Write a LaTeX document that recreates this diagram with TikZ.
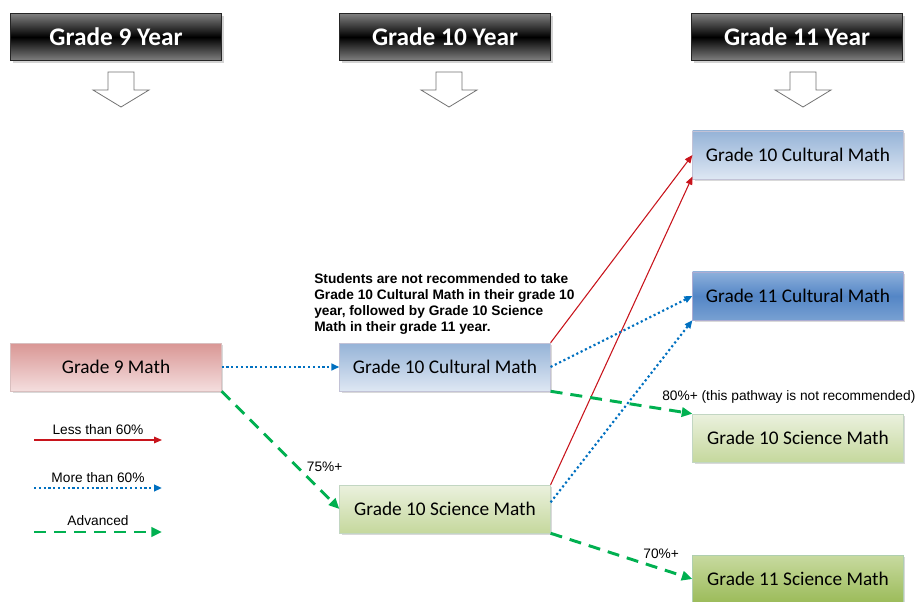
\documentclass[tikz,border=0pt]{standalone}
\usepackage{fontspec}
\setmainfont{Liberation Sans}
\newfontfamily\calibri{Carlito}
\usetikzlibrary{positioning, shadows, arrows.meta}
\definecolor{lessred}{HTML}{C8141C}
\definecolor{moreblue}{HTML}{0070C0}
\definecolor{advgreen}{HTML}{00B050}
\tikzset{
  >={Triangle[length=6pt, width=5pt]},
  yearbox/.style={draw=black!85, text=white,
    font=\calibri\bfseries\fontsize{19}{22}\selectfont,
    minimum width=158pt, minimum height=35pt,
    top color=black!50, bottom color=black!50, middle color=black,
    drop shadow={opacity=0.35, shadow xshift=2pt, shadow yshift=-2pt}},
  hollow/.style={draw=black!55, fill=white, line width=0.6pt},
  course/.style={font=\calibri\fontsize{14.5}{17}\selectfont,
    minimum width=158pt, minimum height=36pt,
    drop shadow={opacity=0.3, shadow xshift=1.5pt, shadow yshift=-1.5pt}},
  gradered/.style={course, draw=red!25!gray!40, top color={rgb,255:red,217;green,150;blue,148}, bottom color={rgb,255:red,244;green,222;blue,222}},
  cultlight/.style={course, draw=blue!20!gray!40, top color={rgb,255:red,149;green,179;blue,215}, bottom color={rgb,255:red,222;green,231;blue,243}},
  cultdark/.style={course, draw=blue!30!gray!50, top color={rgb,255:red,141;green,176;blue,219}, bottom color={rgb,255:red,120;green,160;blue,210}, middle color={rgb,255:red,84;green,134;blue,198}},
  scilight/.style={course, draw=green!20!gray!40, top color={rgb,255:red,235;green,241;blue,222}, bottom color={rgb,255:red,197;green,216;blue,157}},
  scidark/.style={course, draw=green!25!gray!50, top color={rgb,255:red,200;green,218;blue,160}, bottom color={rgb,255:red,155;green,187;blue,89}},
  note/.style={font=\bfseries\fontsize{10.3}{12}\selectfont, align=left, inner sep=0pt},
  lbl/.style={font=\fontsize{10.3}{12}\selectfont},
  less/.style={->, draw=lessred, line width=0.8pt},
  more/.style={->, draw=moreblue, line width=1.6pt, dash pattern=on 1.6pt off 2pt},
  adv/.style={-{Triangle[length=8pt, width=7pt]}, draw=advgreen, line width=2.2pt, dash pattern=on 9pt off 6pt},
}
\begin{document}
\begin{tikzpicture}[x=0.75pt, y=-0.75pt]
  \useasboundingbox (0,0) rectangle (917,602);

  % year headers
  \node[yearbox] (y9)  at (116,37) {Grade 9 Year};
  \node[yearbox] (y10) at (445,37) {Grade 10 Year};
  \node[yearbox] (y11) at (797,37) {Grade 11 Year};

  % hollow arrows below headers
  \foreach \c in {121,449,803}
    \draw[hollow] (\c-13,72) -- (\c+13,72) -- (\c+13,90) -- (\c+28,90)
      -- (\c,107) -- (\c-28,90) -- (\c-13,90) -- cycle;

  % courses
  \node[gradered]  (g9)   at (116,367) {Grade 9 Math};
  \node[cultlight] (mc10) at (445,367) {Grade 10 Cultural Math};
  \node[scilight]  (ms10) at (445,509) {Grade 10 Science Math};
  \node[cultlight] (rc10) at (798,155) {Grade 10 Cultural Math};
  \node[cultdark]  (rc11) at (798,296) {Grade 11 Cultural Math};
  \node[scilight]  (rs10) at (798,438) {Grade 10 Science Math};
  \node[scidark]   (rs11) at (798,579) {Grade 11 Science Math};

  \node[note, anchor=north west] (warn) at (314,273)
    {Students are not recommended to take\\
     Grade 10 Cultural Math in their grade 10\\
     year, followed by Grade 10 Science\\
     Math in their grade 11 year.};

  % pathways
  \draw[more] (g9) -- (mc10);
  \draw[adv] (g9.south east) -- node[lbl, pos=0.64, right=3pt] {75\%+} (ms10.west);
  \draw[less] (mc10.north east) -- (rc10.west);
  \draw[less] (ms10.north east) -- ([yshift=2pt]rc10.south west);
  \draw[more] (mc10.east) -- (rc11.west);
  \draw[more] ([yshift=5pt]ms10.east) -- (rc11.south west);
  \draw[adv] (mc10.south east) -- node[lbl, at end, anchor=south west, xshift=-27pt, yshift=3pt]
    {80\%+ (this pathway is not recommended)} (rs10.north west);
  \draw[adv] (ms10.south east) -- node[lbl, pos=0.78, above=3pt] {70\%+} (rs11.west);

  % legend
  \coordinate (ls1) at (34,440);  \coordinate (le1) at (162,440);
  \coordinate (ls2) at (34,488);  \coordinate (le2) at (162,488);
  \coordinate (ls3) at (34,532);  \coordinate (le3) at (162,532);
  \draw[less] (ls1) -- node[lbl, above] {Less than 60\%} (le1);
  \draw[more] (ls2) -- node[lbl, above] {More than 60\%} (le2);
  \draw[adv]  (ls3) -- node[lbl, above] {Advanced} (le3);
\end{tikzpicture}
\end{document}
